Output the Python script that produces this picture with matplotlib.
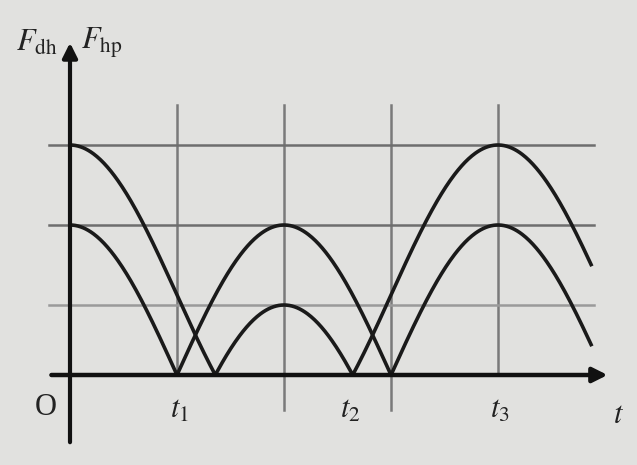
import numpy as np
import matplotlib.pyplot as plt

# quarter periods (t1, grid lines) and force levels
grid_t = [1.0, 2.0, 3.0, 4.0]          # vertical guide lines
tick_t = [1.0, 2.6, 4.0]               # t1, t2, t3 positions
tick_labels = ['$t_1$', '$t_2$', '$t_3$']
amp_hp = 150.0                         # restoring force amplitude k*A
dl = 80.0                              # k*dl0 offset of the elastic force
levels = [amp_hp + dl, amp_hp, amp_hp - dl]   # horizontal guide lines
t_end = 4.87

plt.rcParams['mathtext.fontset'] = 'stix'
plt.rcParams['font.family'] = 'Liberation Serif'

fig = plt.figure(figsize=(6.37, 4.65), dpi=100)
fig.patch.set_facecolor('#e1e1df')
ax = fig.add_axes([0, 0, 1, 1])
ax.set_facecolor('#e1e1df')
ax.set_xlim(-70 / 107, 567 / 107)
ax.set_ylim(-90, 375)
ax.axis('off')

# guide lines
for g in grid_t:
    ax.plot([g, g], [-35 if g in (2.0, 3.0) else 0, 270], color='#7a7a7a', lw=1.8, zorder=1)
for lv, c in zip(levels, ['#6e6e6e', '#6e6e6e', '#9a9a9a']):
    ax.plot([-0.2, 4.9], [lv, lv], color=c, lw=1.8, zorder=1)

# curves
t = np.linspace(0, t_end, 600)
x = np.cos(np.pi / 2 * t)
F_hp = np.abs(amp_hp * x)
F_dh = np.abs(dl + amp_hp * x)
ax.plot(t, F_dh, color='#1a1a1a', lw=2.6, zorder=3)
ax.plot(t, F_hp, color='#1a1a1a', lw=2.6, zorder=3)

# axes with arrows
ax.annotate('', xy=(5.05, 0), xytext=(-0.2, 0),
            arrowprops=dict(arrowstyle='-|>', color='#111111', lw=3.2, mutation_scale=22))
ax.annotate('', xy=(0, 335), xytext=(0, -70),
            arrowprops=dict(arrowstyle='-|>', color='#111111', lw=3.0, mutation_scale=22))

# labels
ax.text(-0.5, 332, '$F_{\\rm dh}$', fontsize=22, ha='left', va='center', color='#222222')
ax.text(0.1, 332, '$F_{\\rm hp}$', fontsize=22, ha='left', va='center', color='#222222')
ax.text(-0.23, -32, 'O', fontsize=22, ha='center', va='center', color='#222222')
for tt, lab in zip(tick_t, tick_labels):
    ax.text(tt + 0.02, -35, lab, fontsize=22, ha='center', va='center', color='#222222')
ax.text(5.13, -40, '$t$', fontsize=22, ha='center', va='center', color='#222222')

fig.savefig('out.png', dpi=100, facecolor=fig.get_facecolor())
